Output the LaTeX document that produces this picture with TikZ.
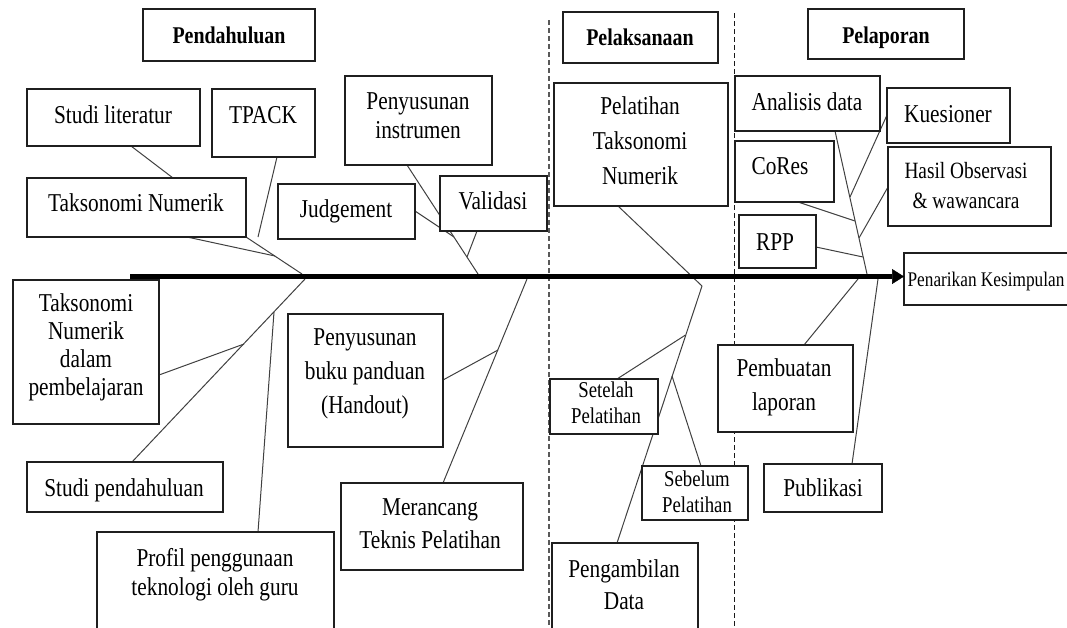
\documentclass[tikz,border=0pt]{standalone}
\usepackage{fontspec}
\setmainfont{Liberation Serif}[FakeStretch=0.83]
\usetikzlibrary{calc,arrows.meta}
\pgfdeclarelayer{bg}
\pgfsetlayers{bg,main}
\newcommand\mybox[5]{\node[box, minimum width={(#4)-(#2)}, minimum height={(#5)-(#3)}, anchor=north west] (#1) at (#2,#3) {};}
\begin{document}
\begin{tikzpicture}[x=1pt, y=-1pt,
 box/.style={draw=black!88, line width=1.3pt, fill=white, inner sep=0pt, outer sep=0pt},
 con/.style={draw=black!75, line width=1pt},
 dsh/.style={line width=1.2pt, dash pattern=on 5pt off 3pt},
 txt/.style={align=center, inner sep=0pt, font=\fontsize{25.7pt}{#1pt}\selectfont, execute at begin node=\strut, execute at end node=\strut},
 txt/.default=32,
 sml/.style={align=center, inner sep=0pt, font=\fontsize{22.6pt}{#1pt}\selectfont, execute at begin node=\strut, execute at end node=\strut},
 sml/.default=26,
 head/.style={inner sep=0pt, font=\fontsize{24pt}{30pt}\selectfont\bfseries, execute at begin node=\strut},
 axisline/.style={line width=5pt, -{Triangle[length=12pt,width=15pt,line width=0.5pt]}}
]
\useasboundingbox (0,0) rectangle (1067,627);

% boxes
\mybox{hPend}{143}{9}{315}{61}
\mybox{hPelak}{563}{12}{718}{63}
\mybox{hPelap}{808}{9}{964}{59}
\mybox{sl}{27}{89}{200}{146}
\mybox{tp}{212}{89}{315}{157}
\mybox{pi}{345}{76}{492}{165}
\mybox{tn}{27}{178}{246}{237}
\mybox{jd}{278}{184}{415}{239}
\mybox{vd}{440}{176}{547}{231}
\mybox{tnp}{13}{280}{159}{424}
\mybox{sp}{27}{462}{223}{512}
\mybox{pf}{97}{532}{334}{640}
\mybox{pb}{288}{314}{443}{447}
\mybox{mr}{341}{483}{523}{570}
\mybox{pt}{554}{83}{728}{206}
\mybox{st}{550}{379}{658}{434}
\mybox{sb}{642}{466}{748}{520}
\mybox{pg}{552}{543}{698}{640}
\mybox{ad}{735}{76}{880}{131}
\mybox{ks}{887}{88}{1010}{143}
\mybox{cr}{735}{141}{834}{202}
\mybox{ho}{888}{147}{1051}{226}
\mybox{rpp}{739}{215}{816}{268}
\mybox{pk}{904}{253}{1085}{305}
\mybox{pl}{718}{345}{853}{432}
\mybox{pu}{764}{464}{882}{512}

% texts
\node[head] (hPend-t) at (229,37) {Pendahuluan};
\node[head] (hPelak-t) at (640,39.5) {Pelaksanaan};
\node[head] (hPelap-t) at (886,37) {Pelaporan};
\node[txt] (sl-t) at (113,117) {Studi literatur};
\node[txt] (tp-t) at (263,117) {TPACK};
\node[txt=29] (pi-t) at (418,119.5) {Penyusunan\\instrumen};
\node[txt] (tn-t) at (136,205) {Taksonomi Numerik};
\node[txt] (jd-t) at (346,211) {Judgement};
\node[txt] (vd-t) at (493,203) {Validasi};
\node[txt=28] (tnp-t) at (86,349) {Taksonomi\\Numerik\\dalam\\pembelajaran};
\node[txt] (sp-t) at (124,490) {Studi pendahuluan};
\node[txt=29] (pf-t) at (215,576.5) {Profil penggunaan\\teknologi oleh guru};
\node[txt=34] (pb-t) at (365,376) {Penyusunan\\buku panduan\\(Handout)};
\node[txt=33] (mr-t) at (430,528.5) {Merancang\\Teknis Pelatihan};
\node[txt=35] (pt-t) at (640,146) {Pelatihan\\Taksonomi\\Numerik};
\node[sml] (st-t) at (606,407) {Setelah\\Pelatihan};
\node[sml] (sb-t) at (697,496) {Sebelum\\Pelatihan};
\node[txt=32] (pg-t) at (624,589) {Pengambilan\\Data};
\node[txt] (ad-t) at (807,104) {Analisis data};
\node[txt] (ks-t) at (948,116) {Kuesioner};
\node[txt] (cr-t) at (780,168) {CoRes};
\node[align=center, inner sep=0pt, font=\fontsize{23.3pt}{30pt}\selectfont, execute at begin node=\strut, execute at end node=\strut] (ho-t) at (966,190) {Hasil Observasi\\\& wawancara};
\node[txt] (rpp-t) at (775,244) {RPP};
\node[inner sep=0pt, font=\fontsize{20.8pt}{26pt}\selectfont, execute at begin node=\strut] (pk-t) at (986,281) {Penarikan Kesimpulan};
\node[txt=34] (pl-t) at (784,390) {Pembuatan\\laporan};
\node[txt] (pu-t) at (823,490) {Publikasi};

% coordinates
\coordinate (axs) at (130,276.5);
\coordinate (d1t) at (549,20);
\coordinate (d1b) at (549,627);
\coordinate (d2t) at (734.5,13);
\coordinate (d2b) at (734.5,627);
\coordinate (tpEnd) at (258,237);
\coordinate (jA) at (302,274);
\coordinate (jA1) at (275,256);
\coordinate (jB) at (305,279);
\coordinate (jB1) at (244,344);
\coordinate (jB2) at (274,312);
\coordinate (jC) at (478,274);
\coordinate (jC1) at (454,237);
\coordinate (jC2) at (467,257);
\coordinate (jD) at (527,279);
\coordinate (jD1) at (498,350);
\coordinate (jE) at (702,286);
\coordinate (jE1) at (685.5,335);
\coordinate (jE2) at (672,376);
\coordinate (jF) at (867,274);
\coordinate (jF1) at (850,197);
\coordinate (jF2) at (855,221);
\coordinate (jF3) at (859,238);
\coordinate (jF4) at (863,257);
\coordinate (jG) at (858,279);
\coordinate (jH) at (878,279);

\begin{pgfonlayer}{bg}
\draw[dsh, black!65] (d1t) -- (d1b);
\draw[dsh, black!90] (d2t) -- (d2b);
% Pendahuluan upper
\draw[con] ($(sl.south west)+(104,0)$) -- ($(tn.north west)+(146,0)$);
\draw[con] ($(tp.south west)+(65,0)$) -- (tpEnd);
\draw[con] (tn.south east) -- (jA);
\draw[con] ($(tn.south west)+(160,0)$) -- (jA1);
% Pendahuluan lower
\draw[con] (jB) -- ($(sp.north west)+(105,0)$);
\draw[con] ($(tnp.north east)+(0,95)$) -- (jB1);
\draw[con] (jB2) -- ($(pf.north west)+(161,0)$);
% instrumen
\draw[con] ($(pi.south west)+(62,0)$) -- (jC);
\draw[con] ($(jd.north east)+(0,27)$) -- (jC1);
\draw[con] ($(vd.south west)+(37,0)$) -- (jC2);
% merancang
\draw[con] (jD) -- ($(mr.north west)+(102,0)$);
\draw[con] ($(pb.north east)+(0,66)$) -- (jD1);
% pelaksanaan
\draw[con] ($(pt.south west)+(64,0)$) -- (jE);
\draw[con] (jE) -- ($(pg.north west)+(65,0)$);
\draw[con] ($(st.north west)+(67,0)$) -- (jE1);
\draw[con] (jE2) -- ($(sb.north west)+(59,0)$);
% pelaporan
\draw[con] ($(ad.south west)+(100,0)$) -- (jF);
\draw[con] ($(ks.north west)+(0,27)$) -- (jF1);
\draw[con] ($(cr.south west)+(63,0)$) -- (jF2);
\draw[con] ($(ho.north west)+(0,40)$) -- (jF3);
\draw[con] ($(rpp.north east)+(0,32)$) -- (jF4);
\draw[con] (jG) -- ($(pl.north west)+(86,0)$);
\draw[con] (jH) -- ($(pu.north west)+(88,0)$);
\end{pgfonlayer}

% main axis
\draw[axisline] (axs) -- (axs -| pk.west);
\end{tikzpicture}
\end{document}
